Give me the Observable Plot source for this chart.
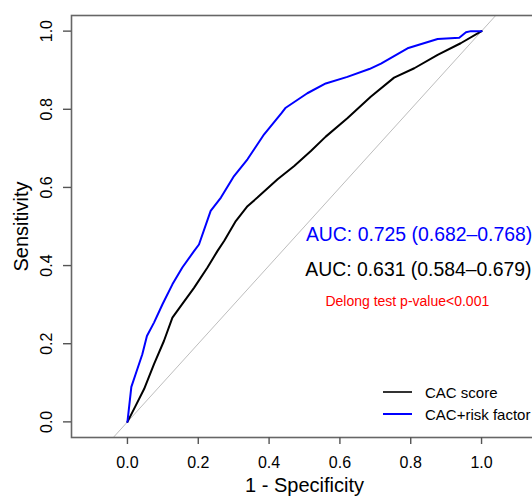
<!DOCTYPE html>
<html>
<head>
<meta charset="utf-8">
<script src="https://cdn.jsdelivr.net/npm/d3@7"></script>
<script src="https://cdn.jsdelivr.net/npm/@observablehq/plot@0.6"></script>
<style>
  html, body { margin: 0; padding: 0; background: #fff; overflow: hidden; }
  #wrap { position: relative; width: 532px; height: 497px; overflow: hidden; }
  #wrap svg { max-width: none !important; width: 540px !important; height: 497px !important; display: block; }
  #legend { position: absolute; left: 383px; top: 381px; font-family: "Liberation Sans", Arial, sans-serif; font-size: 15px; color: #000; }
  .row { display: flex; align-items: center; height: 22px; }
  .sw { width: 29px; height: 0; border-top: 2px solid; margin-right: 13px; }
</style>
</head>
<body>
<div id="wrap"><div id="legend"></div></div>
<script>
// ROC curve: CAC score (black)
const cacX = [0, 0.023, 0.047, 0.075, 0.103, 0.127, 0.151, 0.188, 0.226, 0.254, 0.273, 0.306, 0.339, 0.367, 0.424, 0.471, 0.518, 0.560, 0.621, 0.687, 0.753, 0.810, 0.876, 0.941, 1.0];
const cacY = [0, 0.041, 0.084, 0.148, 0.207, 0.267, 0.297, 0.343, 0.395, 0.437, 0.463, 0.514, 0.552, 0.574, 0.621, 0.655, 0.693, 0.730, 0.777, 0.832, 0.881, 0.905, 0.939, 0.969, 1.0];
// ROC curve: CAC + risk factor (blue)
const riskX = [0, 0.011, 0.023, 0.042, 0.055, 0.075, 0.099, 0.127, 0.155, 0.188, 0.202, 0.235, 0.264, 0.301, 0.339, 0.386, 0.435, 0.447, 0.508, 0.560, 0.621, 0.683, 0.716, 0.791, 0.876, 0.937, 0.956, 0.970, 1.0];
const riskY = [0, 0.0895, 0.122, 0.173, 0.220, 0.254, 0.301, 0.352, 0.395, 0.437, 0.454, 0.540, 0.574, 0.629, 0.672, 0.736, 0.790, 0.804, 0.841, 0.866, 0.883, 0.903, 0.917, 0.956, 0.980, 0.983, 0.997, 1.0, 1.0];

const seriesNames = ["CAC score", "CAC+risk factor"];
const seriesColors = ["#000000", "#0000ff"];
const legendSwatch = ["#333333", "#0000ff"];
const aucLabels = ["AUC: 0.725 (0.682\u20130.768)", "AUC: 0.631 (0.584\u20130.679)"];
const testLabel = "Delong test p-value<0.001";
const ticks = [0, 0.2, 0.4, 0.6, 0.8, 1.0];
const xTitle = "1 - Specificity";
const yTitle = "Sensitivity";

const cac = cacX.map((x, i) => ({x, y: cacY[i]}));
const risk = riskX.map((x, i) => ({x, y: riskY[i]}));
const diag = [{v: -0.3}, {v: 1.3}];

const font = "Liberation Sans, Arial, sans-serif";

const plot = Plot.plot({
  width: 540,
  height: 497,
  marginLeft: 71,
  marginRight: 3,
  marginTop: 15,
  marginBottom: 60,
  style: {fontFamily: font, background: "#fff", overflow: "visible", maxWidth: "none"},
  x: {domain: [-0.158, 1.158], axis: null},
  y: {domain: [-0.04, 1.04], axis: null},
  marks: [
    Plot.line(diag, {x: "v", y: "v", stroke: "#bdbdbd", strokeWidth: 1, clip: "frame"}),
    Plot.line(cac, {x: "x", y: "y", stroke: seriesColors[0], strokeWidth: 2}),
    Plot.line(risk, {x: "x", y: "y", stroke: seriesColors[1], strokeWidth: 2}),
    Plot.frame({stroke: "#666", strokeWidth: 1.6}),
    Plot.axisX({ticks, tickSize: 7, tickPadding: 12, tickFormat: d3.format(".1f"), fontSize: 16, stroke: "#555", strokeWidth: 1.4, label: null, fill: "#000"}),
    Plot.axisY({ticks, tickSize: 8, fill: "none", stroke: "#555", strokeWidth: 1.4, label: null}),
    Plot.text(ticks, {y: d => d, text: d => d3.format(".1f")(d), frameAnchor: "left", dx: -25, rotate: -90, textAnchor: "middle", lineAnchor: "middle", fontSize: 16, fill: "#000"}),
    Plot.text([xTitle], {frameAnchor: "bottom", dy: 54, lineAnchor: "bottom", fontSize: 20, fill: "#000"}),
    Plot.text([yTitle], {frameAnchor: "left", dx: -50, rotate: -90, textAnchor: "middle", lineAnchor: "middle", fontSize: 20, fill: "#000"}),
    Plot.text([aucLabels[0]], {x: 0.504, y: 0.48, textAnchor: "start", lineAnchor: "middle", fontSize: 19.4, fill: seriesColors[1]}),
    Plot.text([aucLabels[1]], {x: 0.502, y: 0.389, textAnchor: "start", lineAnchor: "middle", fontSize: 19.4, fill: seriesColors[0]}),
    Plot.text([testLabel], {x: 0.559, y: 0.309, textAnchor: "start", lineAnchor: "middle", fontSize: 14, fill: "#ff0000"})
  ]
});
const wrap = document.getElementById("wrap");
wrap.insertBefore(plot, wrap.firstChild);
const legend = document.getElementById("legend");
seriesNames.forEach((name, i) => {
  const row = document.createElement("div");
  row.className = "row";
  const sw = document.createElement("span");
  sw.className = "sw";
  sw.style.borderTopColor = legendSwatch[i];
  const t = document.createElement("span");
  t.textContent = name;
  row.appendChild(sw);
  row.appendChild(t);
  legend.appendChild(row);
});
</script>
</body>
</html>
